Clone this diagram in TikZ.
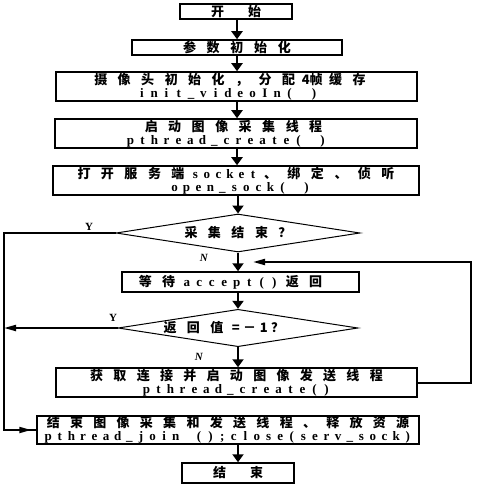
\documentclass[tikz,border=0pt]{standalone}
\usepackage{fontspec}
\setmainfont{Liberation Serif}
\newfontfamily\cjk{Noto Sans CJK SC}
\usetikzlibrary{arrows.meta,shapes.geometric,calc}
\makeatletter
\newcommand\cells[2]{\def\cell@w{#1}\cells@i#2\cells@end}
\def\cells@end{\cells@end}
\def\cells@i#1{\ifx\cells@end#1\else\makebox[\cell@w][c]{#1}\expandafter\cells@i\fi}
\makeatother
\newcommand\zh[2]{{\cjk\bfseries\fontsize{13}{13}\selectfont\cells{#1}{#2}}}
\newcommand\en[2]{{\bfseries\fontsize{13}{13}\selectfont\cells{#1}{#2}}}
\begin{document}
\begin{tikzpicture}[x=1pt,y=-1pt,
  box/.style={draw,line width=1.5pt,inner sep=0pt,align=center,font=\fontsize{13}{13}\selectfont},
  dia/.style={draw,diamond,line width=1pt,inner sep=0pt,aspect=6.4},
  arr/.style={line width=2pt,-{Triangle[width=11pt,length=8pt]}},
  side/.style={line width=2pt,-{Triangle[width=6pt,length=12pt]}},
  conn/.style={line width=2pt},
  lab/.style={font=\bfseries\fontsize{11}{11}\selectfont,inner sep=0pt}]
\useasboundingbox (0,0) rectangle (480,486);
\coordinate (ax) at (237,0);
\coordinate (lx) at (4,0);
\coordinate (rx) at (471,0);
\coordinate (lp) at (253,262);

\node[box,minimum width=112pt,minimum height=15pt] (start) at (236,11.5) {\zh{37pt}{开始}};
\node[box,minimum width=210pt,minimum height=15pt] (init) at (237,47.5) {\zh{23.75pt}{参数初始化}};
\node[box,minimum width=361pt,minimum height=29pt] (cam) at (236.5,86.5)
  {\zh{23.5pt}{摄像头初始化，分配{4帧}缓存}\hspace*{13pt}\\\en{12.3pt}{init\_videoIn(~)}\hspace*{17pt}};
\node[box,minimum width=362pt,minimum height=29pt] (cap) at (236,133.5)
  {\zh{23.5pt}{启动图像采集线程}\hspace*{5pt}\\\en{12pt}{pthread\_create(~)}\hspace*{19pt}};
\node[box,minimum width=366pt,minimum height=29pt] (sock) at (236,180.5)
  {\zh{23.5pt}{打开服务端}\en{11.5pt}{socket}\zh{23.5pt}{、绑定、侦听}\\\hspace*{9pt}\en{12pt}{open\_sock(~)}};
\node[dia,minimum width=244pt,minimum height=38pt] (d1) at (238,233) {\zh{23.5pt}{采集结束？}};
\node[box,minimum width=237pt,minimum height=20pt] (wait) at (240.5,282)
  {\zh{23.5pt}{等待}\en{12.5pt}{accept()}\zh{23.5pt}{返回}\hspace*{20pt}};
\node[dia,minimum width=240pt,minimum height=36pt] (d2) at (238,328)
  {\zh{23.5pt}{返回值}\zh{14pt}{=－1？}\hspace*{33pt}};
\node[box,minimum width=361pt,minimum height=29pt] (conn) at (236.5,382.5)
  {\zh{23.3pt}{获取连接并启动图像发送线程}\\\en{12pt}{pthread\_create()}};
\node[box,minimum width=382pt,minimum height=28pt] (endthr) at (228,430)
  {\zh{23.3pt}{结束图像采集和发送线程、释放资源}\\\en{11.6pt}{pthread\_join~();close(serv\_sock)}};
\node[box,minimum width=112pt,minimum height=20pt] (end) at (238,473) {\zh{37pt}{结束}};

\node[lab] (y1) at (89,227) {Y};
\node[lab] (y2) at (113,318) {Y};
\node[lab] (n1) at (204,258) {\textit{N}};
\node[lab] (n2) at (199,357) {\textit{N}};

\draw[arr] (start.south -| ax) -- (init.north -| ax);
\draw[arr] (init.south -| ax) -- (cam.north -| ax);
\draw[arr] (cam.south -| ax) -- (cap.north -| ax);
\draw[arr] (cap.south -| ax) -- (sock.north -| ax);
\draw[arr] (sock.south -| d1.north) -- (d1.north);
\draw[arr] (d1.south) -- (wait.north -| d1.south);
\draw[arr] (wait.south -| d2.north) -- (d2.north);
\draw[arr] (d2.south) -- (conn.north -| d2.south);
\draw[arr] (endthr.south -| end.north) -- (end.north);

\draw[side] (conn.east) -| (rx |- lp) -- (lp);
\draw[conn] (d1.west) -| (lx |- endthr.west) -- (endthr.west);
\draw[side] (lx |- endthr.west) -- ($(endthr.west)+(-5,0)$);
\draw[side] (d2.west) -- (d2.west -| lx);
\end{tikzpicture}
\end{document}
